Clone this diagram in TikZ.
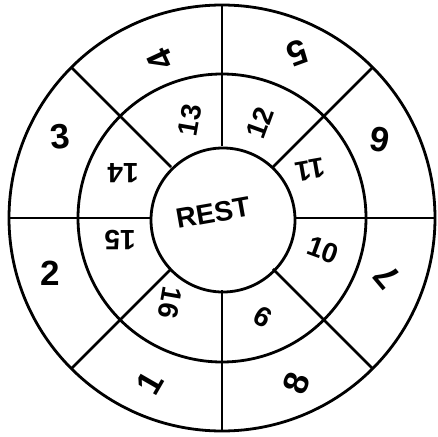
\documentclass[tikz,border=0pt]{standalone}
\usepackage{fontspec}
\setsansfont{Liberation Sans}
\begin{document}
\begin{tikzpicture}[x=1pt, y=1pt, line width=2.8pt,
    num/.style={font=\sffamily\bfseries\fontsize{35}{35}\selectfont, inner sep=0pt},
    innum/.style={num, font=\sffamily\bfseries\fontsize{28}{28}\selectfont}]
    \useasboundingbox (-222,-218) rectangle (216,218);

    % Rings
    \draw (0,0) circle (213);
    \draw (0,0) circle (144);
    \draw (1,-2) circle (72);

    % Spokes
    \foreach \a in {0,45,...,315} {
        \draw (\a:72) -- (\a:213);
    }

    % Outer sectors
    \foreach \x/\y/\rot/\t in {-72/-165/60/1, -172/-55/0/2, -162/81/5/3, -62/158/115/4,
                              75/165/200/5, 158/78/170/6, 165/-59/130/7, 75/-165/70/8} {
        \node[num, rotate=\rot] (out\t) at (\x,\y) {\t};
    }

    % Inner sectors
    \foreach \x/\y/\rot/\t in {41/-99/150/9, 101/-32/-20/10, 88/48/190/11, 38/95/70/12,
                              -32/98/80/13, -99/45/180/14, -102/-22/180/15, -52/-85/-100/16} {
        \node[innum, rotate=\rot] (in\t) at (\x,\y) {\t};
    }

    % Centre
    \node[innum, rotate=10] (rest) at (-9,5) {REST};
\end{tikzpicture}
\end{document}
